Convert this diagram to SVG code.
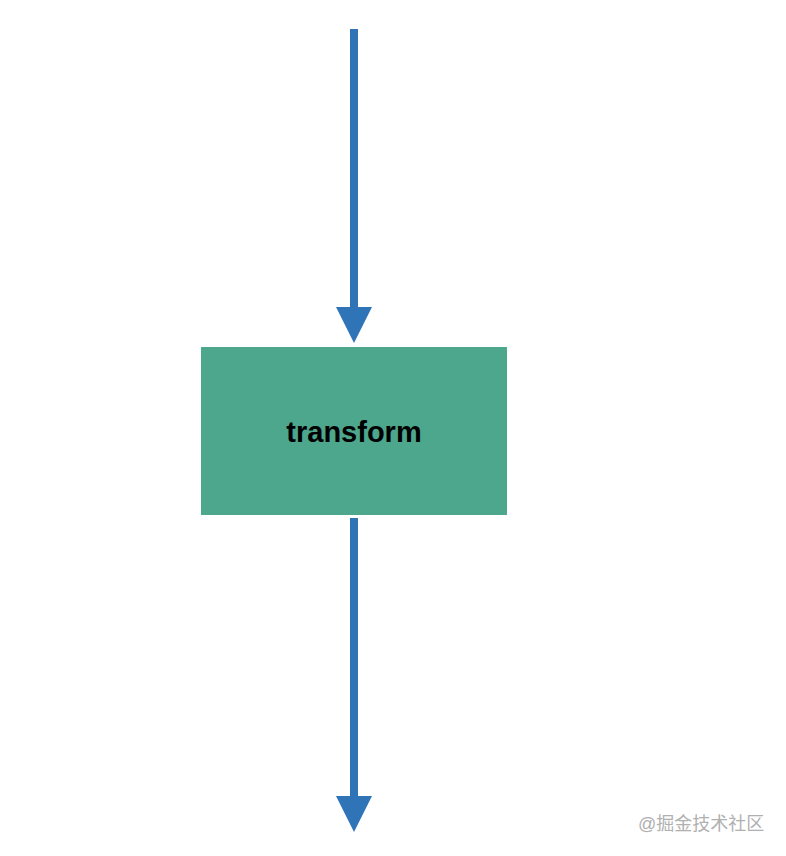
<svg xmlns="http://www.w3.org/2000/svg" width="786" height="856" viewBox="0 0 786 856">
<style>
.edge{stroke:#2f74b7;stroke-width:8;fill:none}
.head{fill:#2f74b7}
.label{font-family:"Liberation Sans",Arial,sans-serif;font-weight:bold;font-size:29px;fill:#000}
.wm{font-family:"Liberation Sans","Noto Sans CJK SC",sans-serif;font-size:18px;fill:#b0b0b0}
</style>
<rect width="786" height="856" fill="#fff"/>
<g id="connectors">
<line class="edge" x1="354" y1="29" x2="354" y2="308"/>
<polygon class="head" points="336,307 372,307 354,343"/>
<line class="edge" x1="354" y1="518" x2="354" y2="797"/>
<polygon class="head" points="336,796 372,796 354,832"/>
</g>
<g id="node-transform">
<rect x="201" y="347" width="306" height="168" fill="#4ca78d"/>
<text class="label" x="354" y="442" text-anchor="middle">transform</text>
</g>
<text class="wm" x="638" y="830">@掘金技术社区</text>
</svg>
